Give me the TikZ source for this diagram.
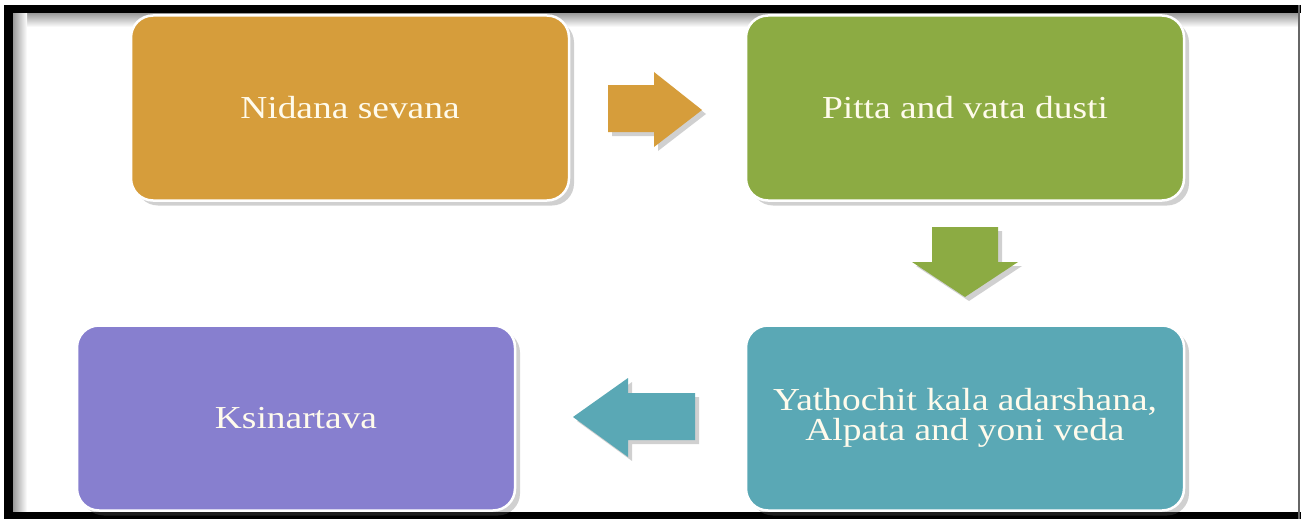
\documentclass[tikz,border=0pt]{standalone}
\usepackage{graphicx}
\usepackage{fontspec}
\setmainfont{Liberation Serif}
\usetikzlibrary{shadows}
\definecolor{cOrange}{HTML}{D69D3B}
\definecolor{cGreen}{HTML}{8CAB43}
\definecolor{cTeal}{HTML}{5AA8B5}
\definecolor{cPurple}{HTML}{877FCF}
\definecolor{cText}{HTML}{FFFBEC}
% slightly widened lettering
\newcommand{\widetext}[1]{\scalebox{1.17}[1]{#1}}
\tikzset{
  stagebox/.style={draw=white, line width=2.5pt, rounded corners=22pt,
    minimum width=438pt, minimum height=185pt, inner sep=0pt,
    text=cText, align=center, font=\fontsize{32}{30}\selectfont,
    drop shadow={shadow xshift=5pt, shadow yshift=-5pt, opacity=0.3, fill=black!60}},
  blockarrow/.style={drop shadow={shadow xshift=4pt, shadow yshift=-4pt, opacity=0.3, fill=black!60}}
}
\begin{document}
\begin{tikzpicture}[x=1pt, y=-1pt]
  \useasboundingbox (0,0) rectangle (1301,519);
  % white page with a heavy frame on three sides and a soft inner shade
  \fill[white] (0,0) rectangle (1301,519);
  \shade[top color=black!40, bottom color=white] (13,13) rectangle (1298,27);
  \shade[left color=black!40, right color=white] (13,13) rectangle (27,512);
  \fill[black] (4,5) rectangle (1301,13);
  \fill[black] (4,5) rectangle (13,519);
  \fill[black] (4,512) rectangle (1301,519);
  \fill[black!60] (1297.5,5) rectangle (1300,519);

  % stages
  \node[stagebox, fill=cOrange] (nidana) at (350,108) {\widetext{Nidana sevana}};
  \node[stagebox, fill=cGreen]  (dusti)  at (965,108) {\widetext{Pitta and vata dusti}};
  \node[stagebox, fill=cTeal]   (kala)   at (965,418)
    {\widetext{Yathochit kala adarshana,}\\\widetext{Alpata and yoni veda}};
  \node[stagebox, fill=cPurple] (ksin)   at (296,418) {\widetext{Ksinartava}};

  % block arrows between stages
  \fill[cOrange, blockarrow] (608,85) -- (654,85) -- (654,72) -- (702,110)
     -- (654,147) -- (654,132) -- (608,132) -- cycle;
  \fill[cGreen, blockarrow] (932,227) -- (998,227) -- (998,262) -- (1018,262)
     -- (965,297) -- (912,262) -- (932,262) -- cycle;
  \fill[cTeal, blockarrow] (695,393) -- (628,393) -- (628,378) -- (573,417)
     -- (628,457) -- (628,440) -- (695,440) -- cycle;
\end{tikzpicture}
\end{document}
